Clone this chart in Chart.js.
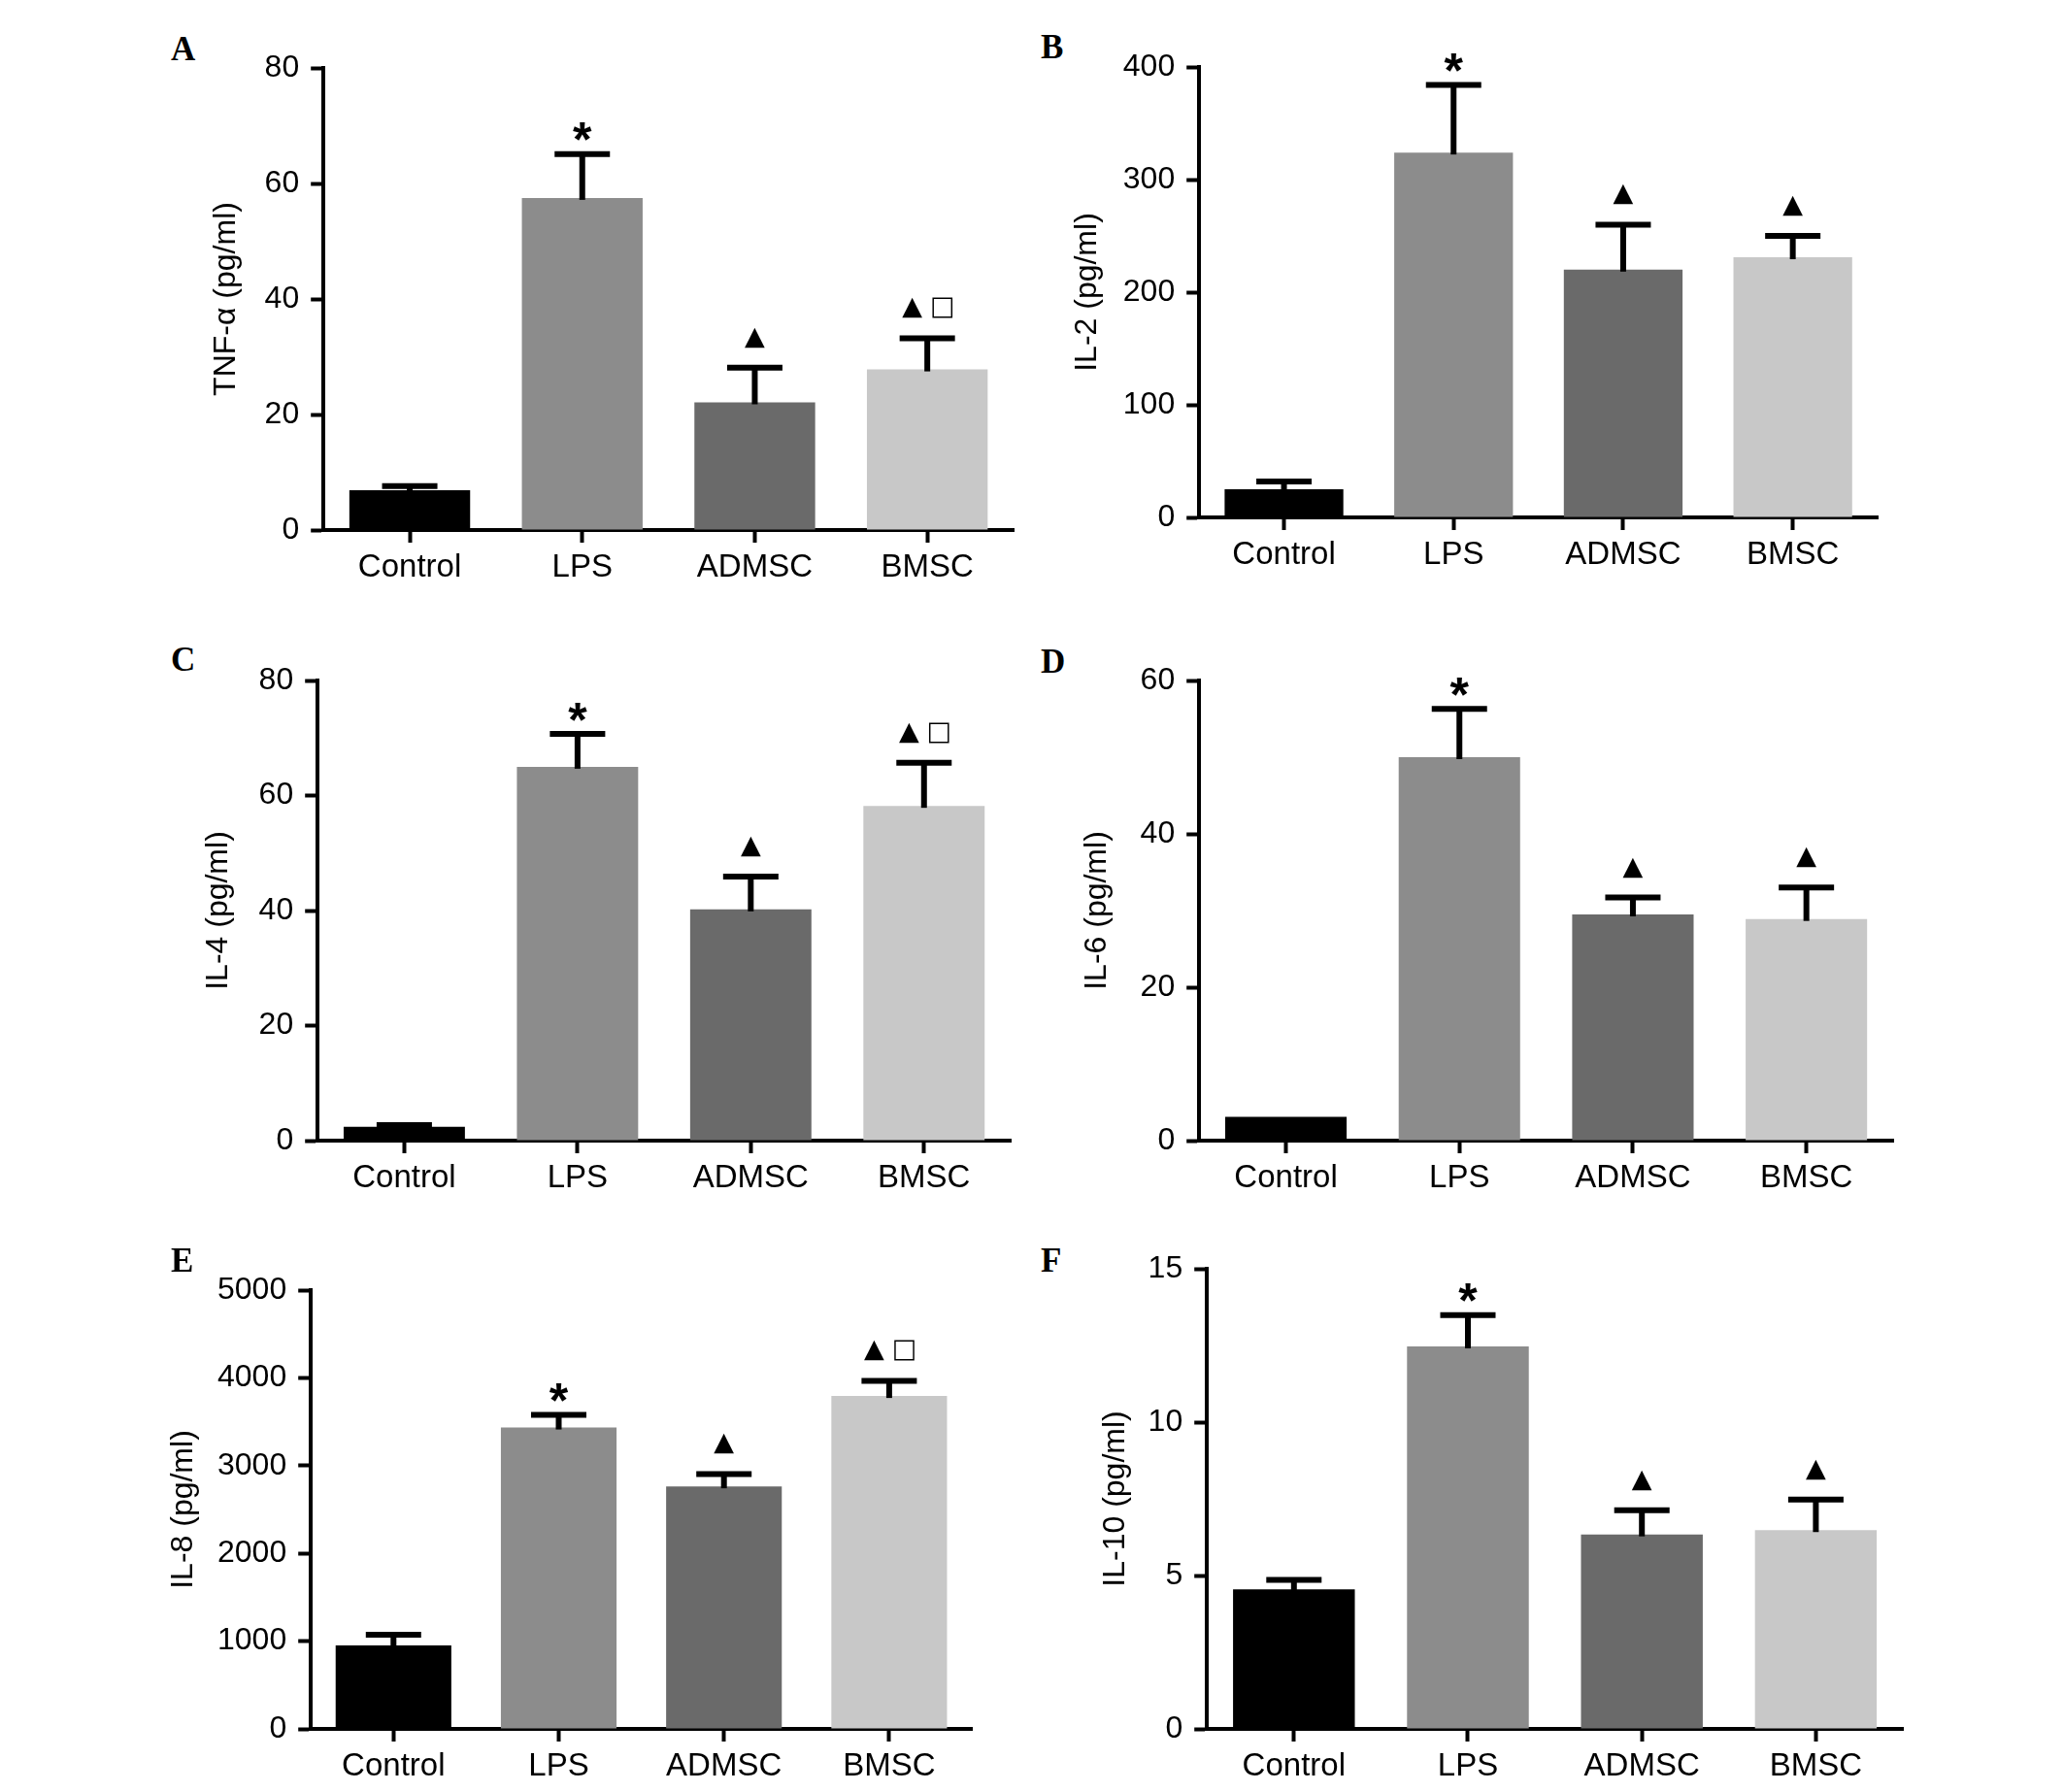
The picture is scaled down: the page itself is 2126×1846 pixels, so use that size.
<!DOCTYPE html>
<html>
<head>
<meta charset="utf-8">
<script src="https://cdn.jsdelivr.net/npm/chart.js@4.4.0/dist/chart.umd.min.js"></script>
<style>
  body { margin: 0; background: #fff; width: 2126px; height: 1846px; position: relative; overflow: hidden; }
  canvas { position: absolute; }
  .tag { position: absolute; font-family: 'Liberation Serif', 'Times New Roman', serif; font-weight: bold; font-size: 35px; line-height: 35px; color: #000; }
</style>
</head>
<body>
<script>
// groups and bar shades
const groups = ['Control', 'LPS', 'ADMSC', 'BMSC'];
const barColors = ['#000000', '#8c8c8c', '#6a6a6a', '#c8c8c8'];

// means and upper error (SD)
const tnfMean = [6.9, 57.5, 22.1, 27.8];
const tnfErr = [0.7, 7.6, 6.0, 5.4];
const il2Mean = [25, 324, 220, 231];
const il2Err = [7, 60, 40, 19];
const il4Mean = [2.4, 65.0, 40.2, 58.2];
const il4Err = [0.3, 5.7, 5.7, 7.5];
const il6Mean = [3.1, 50.0, 29.5, 28.9];
const il6Err = [0, 6.3, 2.2, 4.1];
const il8Mean = [950, 3434, 2764, 3793];
const il8Err = [124, 145, 141, 174];
const il10Mean = [4.55, 12.47, 6.34, 6.48];
const il10Err = [0.31, 1.02, 0.79, 1.0];

// significance marks above the bars
const tnfMarks = ['', '*', '▲', '▲□'];
const il2Marks = ['', '*', '▲', '▲'];
const il4Marks = ['', '*', '▲', '▲□'];
const il6Marks = ['', '*', '▲', '▲'];
const il8Marks = ['', '*', '▲', '▲□'];
const il10Marks = ['', '*', '▲', '▲'];

// y axis range: [max, step]
const tnfAxis = [80, 20];
const il2Axis = [400, 100];
const il4Axis = [80, 20];
const il6Axis = [60, 20];
const il8Axis = [5000, 1000];
const il10Axis = [15, 5];

const sans = "'Liberation Sans', Arial, sans-serif";

// box = plot area [left, top, right, bottom] on the page, gap = axis to title centre
const panels = [
  { tag: 'A', tagPos: [176, 33], title: 'TNF-α (pg/ml)', mean: tnfMean, err: tnfErr, marks: tnfMarks, axis: tnfAxis, box: [333, 70, 1044, 546], gap: 100 },
  { tag: 'B', tagPos: [1072, 31], title: 'IL-2 (pg/ml)', mean: il2Mean, err: il2Err, marks: il2Marks, axis: il2Axis, box: [1235, 69, 1934, 533], gap: 115 },
  { tag: 'C', tagPos: [176, 662], title: 'IL-4 (pg/ml)', mean: il4Mean, err: il4Err, marks: il4Marks, axis: il4Axis, box: [327, 701, 1041, 1175], gap: 102 },
  { tag: 'D', tagPos: [1072, 664], title: 'IL-6 (pg/ml)', mean: il6Mean, err: il6Err, marks: il6Marks, axis: il6Axis, box: [1235, 701, 1950, 1175], gap: 105 },
  { tag: 'E', tagPos: [176, 1281], title: 'IL-8 (pg/ml)', mean: il8Mean, err: il8Err, marks: il8Marks, axis: il8Axis, box: [320, 1329, 1001, 1781], gap: 131 },
  { tag: 'F', tagPos: [1072, 1281], title: 'IL-10 (pg/ml)', mean: il10Mean, err: il10Err, marks: il10Marks, axis: il10Axis, box: [1243, 1307, 1960, 1781], gap: 94 }
];

function errorBarPlugin(p) {
  return {
    id: 'errorBars',
    afterDatasetsDraw(chart) {
      const ctx = chart.ctx;
      const y = chart.scales.y;
      const bars = chart.getDatasetMeta(0).data;
      ctx.save();
      ctx.strokeStyle = '#000';
      ctx.fillStyle = '#000';
      ctx.lineWidth = 6;
      bars.forEach((bar, i) => {
        const base = y.getPixelForValue(p.mean[i]);
        const top = y.getPixelForValue(p.mean[i] + p.err[i]);
        if (p.err[i] > 0) {
          ctx.beginPath();
          ctx.moveTo(bar.x, base + 2);
          ctx.lineTo(bar.x, top);
          ctx.stroke();
          ctx.beginPath();
          ctx.moveTo(bar.x - 28.5, top);
          ctx.lineTo(bar.x + 28.5, top);
          ctx.stroke();
        }
        const mark = p.marks[i];
        if (!mark) return;
        const chars = Array.from(mark);
        chars.forEach((ch, k) => {
          const isStar = ch === '*';
          ctx.font = isStar ? 'bold 50px ' + sans : "27px 'DejaVu Sans', sans-serif";
          const m = ctx.measureText(ch);
          const cy = top - (isStar ? 23 : 31);
          const cx = bar.x + (k - (chars.length - 1) / 2) * 31;
          ctx.textAlign = 'center';
          ctx.textBaseline = 'alphabetic';
          ctx.fillText(ch, cx, cy + (m.actualBoundingBoxAscent - m.actualBoundingBoxDescent) / 2);
        });
      });
      ctx.restore();
    }
  };
}

const padTop = 45, padRight = 10, xAxisH = 70;

panels.forEach(p => {
  const [L, T, R, B] = p.box;
  const yW = p.gap + 19.2;
  const canvas = document.createElement('canvas');
  canvas.width = Math.round(yW + (R - L) + padRight);
  canvas.height = Math.round(padTop + (B - T) + xAxisH);
  canvas.style.left = (L - yW) + 'px';
  canvas.style.top = (T - padTop) + 'px';
  document.body.appendChild(canvas);

  const tag = document.createElement('div');
  tag.className = 'tag';
  tag.textContent = p.tag;
  tag.style.left = p.tagPos[0] + 'px';
  tag.style.top = p.tagPos[1] + 'px';
  document.body.appendChild(tag);

  const axisGrid = { display: true, drawOnChartArea: false, drawTicks: true, tickLength: 13, tickWidth: 4, tickColor: '#000', offset: false };
  const axisBorder = { display: true, width: 4, color: '#000' };

  new Chart(canvas, {
    type: 'bar',
    data: {
      labels: groups,
      datasets: [{
        data: p.mean,
        backgroundColor: barColors,
        borderWidth: 0,
        barPercentage: 0.7,
        categoryPercentage: 1
      }]
    },
    options: {
      responsive: false,
      animation: false,
      devicePixelRatio: 1,
      layout: { padding: { top: padTop, right: padRight, left: 0, bottom: 0 } },
      plugins: { legend: { display: false }, tooltip: { enabled: false } },
      scales: {
        x: {
          grid: axisGrid,
          border: axisBorder,
          ticks: { color: '#000', font: { family: sans, size: 33 }, padding: 6, maxRotation: 0 },
          afterFit(s) { s.height = xAxisH; }
        },
        y: {
          min: 0,
          max: p.axis[0],
          grid: axisGrid,
          border: axisBorder,
          ticks: { stepSize: p.axis[1], color: '#000', font: { family: sans, size: 32 }, padding: 12, callback: v => String(v) },
          title: { display: true, text: p.title, color: '#000', font: { family: sans, size: 32 }, padding: 0 },
          afterFit(s) { s.width = yW; }
        }
      }
    },
    plugins: [errorBarPlugin(p)]
  });
});
</script>
</body>
</html>
